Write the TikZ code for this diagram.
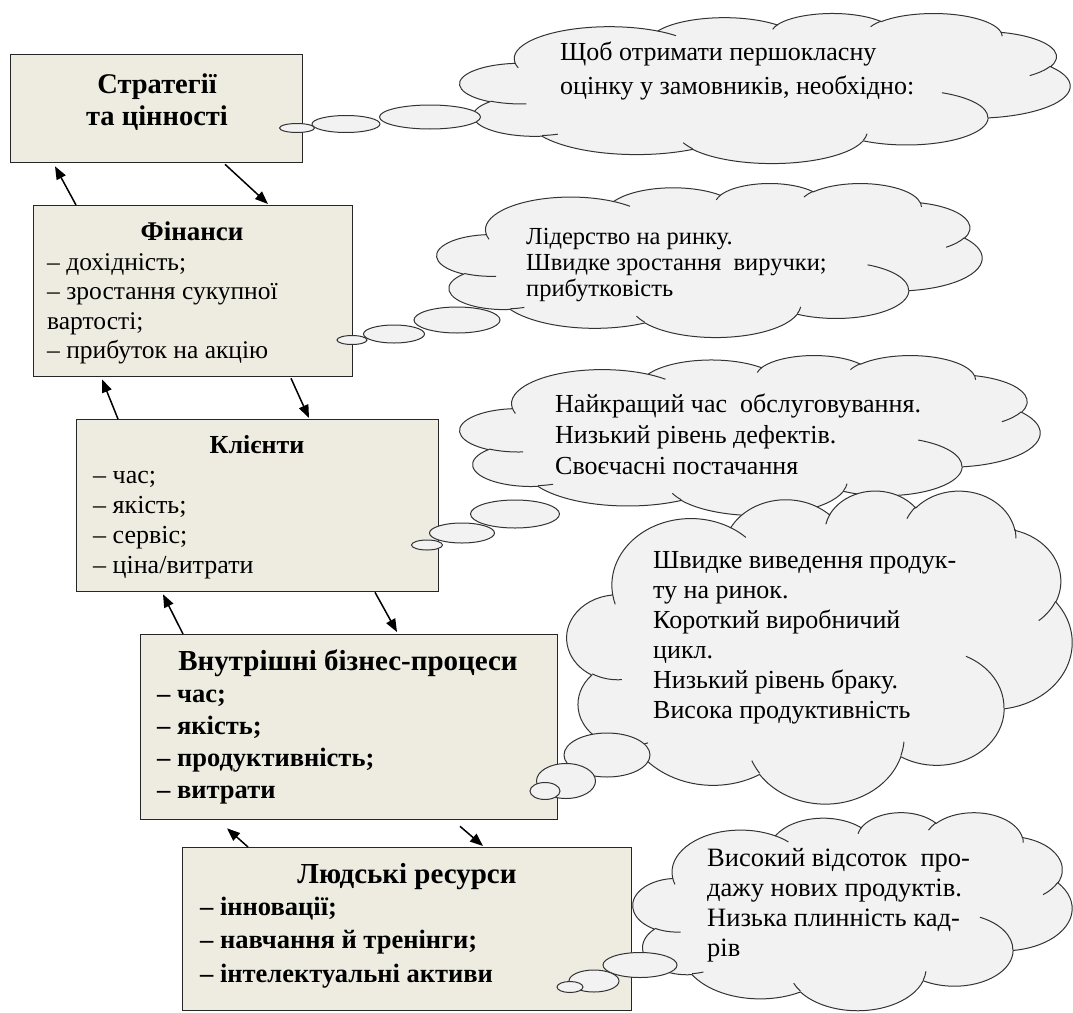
\documentclass[tikz,border=0pt]{standalone}
\usepackage{fontspec}
\setmainfont{Liberation Serif}
\usetikzlibrary{shapes.geometric,arrows.meta}
\definecolor{boxfill}{HTML}{EEECE1}
\definecolor{cloudfill}{HTML}{F2F2F2}
% parametric angles of the arcs of a Word-style cloud (shape space 4320 x 4320)
\newcommand\mkang[6]{%
  \pgfmathsetmacro\tmpAng{atan2((#3)*sin(#5),(#4)*cos(#5))}%
  \pgfmathsetmacro\tmpBng{atan2((#3)*sin((#5)+(#6)),(#4)*cos((#5)+(#6)))}%
  \pgfmathsetmacro\tmpBng{\tmpBng<\tmpAng ? \tmpBng+360 : \tmpBng}%
  \xdef#1{\tmpAng}\xdef#2{\tmpBng}}
\mkang\cldSa\cldEa{675.3}{919.0}{-190.487483}{123.780533}
\mkang\cldSb\cldEb{533.3}{726.7}{-144.102383}{89.945233}
\mkang\cldSc\cldEc{436.5}{594.5}{-145.807917}{99.723017}
\mkang\cldSd\cldEd{485.7}{659.5}{-130.986067}{117.241733}
\mkang\cldSe\cldEe{533.3}{727.3}{-78.708883}{109.026917}
\mkang\cldSf\cldEf{677.5}{922.0}{-46.26725}{130.269}
\mkang\cldSg\cldEg{578.5}{786.7}{0.625017}{114.033333}
\mkang\cldSh\cldEh{675.2}{921.5}{22.4516}{115.17255}
\mkang\cldSi\cldEi{772.0}{1054.3}{66.242633}{75.711017}
\mkang\cldSj\cldEj{436.0}{591.8}{-274.942083}{146.735567}
\mkang\cldSk\cldEk{434.5}{594.5}{-246.8285}{152.51885}
\mkang\cliSa\cliEa{434.5}{594.5}{86.742}{26.4295}
\mkang\cliSb\cliEb{436.0}{591.8}{73.61047}{11.44747}
\mkang\cliSc\cliEc{675.2}{921.5}{137.62415}{14.0811}
\mkang\cliSd\cliEd{675.2}{921.5}{6.45327}{15.99835}
\mkang\cliSe\cliEe{578.5}{786.7}{-70.29235}{70.91737}
\mkang\cliSf\cliEf{533.3}{727.3}{30.31803}{27.7515}
\mkang\cliSg\cliEg{485.7}{659.5}{-13.74433}{14.85242}
\mkang\cliSh\cliEh{485.7}{659.5}{-149.18145}{18.19537}
\mkang\cliSi\cliEi{436.5}{594.5}{-163.49427}{17.6871}
\mkang\cliSj\cliEj{675.3}{919.0}{-66.70695}{12.31935}
\mkang\cliSk\cliEk{675.3}{919.0}{157.65435}{11.85817}
\newcommand\cldout{(390,1437)
  arc[start angle=\cldSa,end angle=\cldEa,x radius=675.3,y radius=919.0]
  arc[start angle=\cldSb,end angle=\cldEb,x radius=533.3,y radius=726.7]
  arc[start angle=\cldSc,end angle=\cldEc,x radius=436.5,y radius=594.5]
  arc[start angle=\cldSd,end angle=\cldEd,x radius=485.7,y radius=659.5]
  arc[start angle=\cldSe,end angle=\cldEe,x radius=533.3,y radius=727.3]
  arc[start angle=\cldSf,end angle=\cldEf,x radius=677.5,y radius=922.0]
  arc[start angle=\cldSg,end angle=\cldEg,x radius=578.5,y radius=786.7]
  arc[start angle=\cldSh,end angle=\cldEh,x radius=675.2,y radius=921.5]
  arc[start angle=\cldSi,end angle=\cldEi,x radius=772.0,y radius=1054.3]
  arc[start angle=\cldSj,end angle=\cldEj,x radius=436.0,y radius=591.8]
  arc[start angle=\cldSk,end angle=\cldEk,x radius=434.5,y radius=594.5] -- cycle}
\newcommand\cldin{(469.3,2617.7) arc[start angle=\cliSa,end angle=\cliEa,x radius=434.5,y radius=594.5]
  (692.8,3489.9) arc[start angle=\cliSb,end angle=\cliEb,x radius=436.0,y radius=591.8]
  (1647.8,3909.0) arc[start angle=\cliSc,end angle=\cliEc,x radius=675.2,y radius=921.5]
  (2882.7,3475.1) arc[start angle=\cliSd,end angle=\cliEd,x radius=675.2,y radius=921.5]
  (3412.9,2295.4) arc[start angle=\cliSe,end angle=\cliEe,x radius=578.5,y radius=786.7]
  (4179.8,1535.4) arc[start angle=\cliSf,end angle=\cliEf,x radius=533.3,y radius=727.3]
  (3832.4,542.6) arc[start angle=\cliSg,end angle=\cliEg,x radius=485.7,y radius=659.5]
  (2907.8,395.2) arc[start angle=\cliSh,end angle=\cliEh,x radius=485.7,y radius=659.5]
  (2214.1,472.0) arc[start angle=\cliSi,end angle=\cliEi,x radius=436.5,y radius=594.5]
  (1400.0,519.2) arc[start angle=\cliSj,end angle=\cliEj,x radius=675.3,y radius=919.0]
  (412.7,1578.9) arc[start angle=\cliSk,end angle=\cliEk,x radius=675.3,y radius=919.0]}
\begin{document}
\begin{tikzpicture}[x=1pt,y=-1pt,
  box/.style={draw=black!85, line width=1.3pt, fill=boxfill, rectangle, anchor=north west, inner sep=0pt},
  arr/.style={line width=1.5pt, -{Triangle[length=13pt,width=10pt]}},
  cldline/.style={draw=black!80, line width=1pt},
  tail/.style={ellipse, draw=black!80, fill=cloudfill, line width=1pt, inner sep=0pt},
  txt/.style={font=\fontsize{26}{30}\selectfont, inner sep=0pt, anchor=base west, align=left},
  ctxt/.style={font=\fontsize{26}{30}\selectfont, inner sep=0pt, anchor=base west, align=left},
  btxt/.style={font=\fontsize{26}{30}\selectfont\bfseries, inner sep=0pt, anchor=base west, align=left},
  ttl/.style={font=\fontsize{27}{30}\selectfont\bfseries, inner sep=0pt, anchor=base, align=center},
]
\useasboundingbox (0,0) rectangle (1073,1012);

% boxes
\node[box, minimum width=292pt, minimum height=108pt] (b1) at (10,54) {};
\node[box, minimum width=319pt, minimum height=171pt] (b2) at (33,205) {};
\node[box, minimum width=362pt, minimum height=172pt] (b3) at (76,419) {};
\node[box, minimum width=417pt, minimum height=185pt] (b4) at (140,634) {};
\node[box, minimum width=449pt, minimum height=163pt] (b5) at (182,847) {};

% box texts (base anchor = baseline of the last line)
\node[ttl, font=\fontsize{28.5}{32}\selectfont\bfseries] (t1) at (157,125) {Стратегії\\та цінності};
\node[ttl] (t2h) at (192,240) {Фінанси};
\node[txt, font=\fontsize{25.5}{29.5}\selectfont] (t2) at (47,358.5) {– дохідність;\\– зростання сукупної\\вартості;\\– прибуток на акцію};
\node[ttl, font=\fontsize{26}{30}\selectfont\bfseries] (t3h) at (257,453) {Клієнти};
\node[txt] (t3) at (93,573) {– час;\\– якість;\\– сервіс;\\– ціна/витрати};
\node[ttl, font=\fontsize{29}{30}\selectfont\bfseries] (t4h) at (348,670) {Внутрішні бізнес-процеси};
\node[btxt, font=\fontsize{26.5}{32}\selectfont\bfseries] (t4) at (157,798) {– час;\\– якість;\\– продуктивність;\\– витрати};
\node[ttl, font=\fontsize{29}{30}\selectfont\bfseries] (t5h) at (407,883) {Людські ресурси};
\node[btxt, font=\fontsize{26.5}{33.5}\selectfont\bfseries] (t5) at (200,982) {– інновації;\\– навчання й тренінги;\\– інтелектуальні активи};

% arrows between boxes
\draw[arr] ([xshift=43pt]b2.north west) -- ([xshift=45pt,yshift=-3pt]b1.south west);
\draw[arr] ([xshift=215pt,yshift=-1pt]b1.south west) -- ([xshift=235pt,yshift=1pt]b2.north west);
\draw[arr] ([xshift=42pt]b3.north west) -- ([xshift=69pt,yshift=-2pt]b2.south west);
\draw[arr] ([xshift=258pt,yshift=-1pt]b2.south west) -- ([xshift=233pt,yshift=1pt]b3.north west);
\draw[arr] ([xshift=43pt]b4.north west) -- ([xshift=87pt,yshift=-2pt]b3.south west);
\draw[arr] ([xshift=299pt]b3.south west) -- ([xshift=257pt,yshift=2pt]b4.north west);
\draw[arr] ([xshift=66pt]b5.north west) -- ([xshift=87pt,yshift=-8pt]b4.south west);
\draw[arr] ([xshift=320pt,yshift=-6pt]b4.south west) -- ([xshift=301pt,yshift=1pt]b5.north west);

% clouds (Word cloud shape, scaled to each cloud's box)
\begin{scope}[shift={(460,13)}, x=0.14120pt, y=-0.034722pt]
  \fill[cloudfill] \cldout; \draw[cldline] \cldout; \draw[cldline] \cldin;
\end{scope}
\begin{scope}[shift={(437,183)}, x=0.12616pt, y=-0.035648pt]
  \fill[cloudfill] \cldout; \draw[cldline] \cldout; \draw[cldline] \cldin;
\end{scope}
\begin{scope}[shift={(460,355)}, x=0.13426pt, y=-0.037037pt]
  \fill[cloudfill] \cldout; \draw[cldline] \cldout; \draw[cldline] \cldin;
\end{scope}
\begin{scope}[shift={(567,490)}, x=0.11690pt, y=-0.072454pt]
  \fill[cloudfill] \cldout; \draw[cldline] \cldout; \draw[cldline] \cldin;
\end{scope}
\begin{scope}[shift={(633,812)}, x=0.10162pt, y=-0.045833pt]
  \fill[cloudfill] \cldout; \draw[cldline] \cldout; \draw[cldline] \cldin;
\end{scope}

% tails of the clouds
\node[tail, minimum width=101pt, minimum height=24pt] (k1c) at (430,117) {};
\node[tail, minimum width=68pt, minimum height=17pt] (k1b) at (346,124) {};
\node[tail, minimum width=35pt, minimum height=9pt] (k1a) at (297,128) {};
\node[tail, minimum width=86pt, minimum height=26pt] (k2c) at (457,320) {};
\node[tail, minimum width=61pt, minimum height=18pt] (k2b) at (394,334) {};
\node[tail, minimum width=30pt, minimum height=9pt] (k2a) at (352,340) {};
\node[tail, minimum width=89pt, minimum height=28pt] (k3c) at (515,514) {};
\node[tail, minimum width=65pt, minimum height=20pt] (k3b) at (462,533) {};
\node[tail, minimum width=31pt, minimum height=10pt] (k3a) at (427,545) {};
\node[tail, minimum width=86pt, minimum height=44pt] (k4c) at (607,755) {};
\node[tail, minimum width=59pt, minimum height=35pt] (k4b) at (566,781) {};
\node[tail, minimum width=30pt, minimum height=17pt] (k4a) at (545,791) {};
\node[tail, minimum width=74pt, minimum height=25pt] (k5c) at (640,965) {};
\node[tail, minimum width=50pt, minimum height=22pt] (k5b) at (594,981) {};
\node[tail, minimum width=26pt, minimum height=11pt] (k5a) at (570,987) {};

% cloud texts
\node[ctxt, font=\fontsize{26}{34}\selectfont] (q1) at (560,94) {Щоб отримати першокласну\\оцінку у замовників, необхідно:};
\node[ctxt, font=\fontsize{24.5}{26}\selectfont] (q2) at (526,296) {Лідерство на ринку.\\Швидке зростання\ \ виручки;\\прибутковість};
\node[ctxt, font=\fontsize{26}{31}\selectfont] (q3) at (555,474) {Найкращий час\ \ обслуговування.\\Низький рівень дефектів.\\Своєчасні постачання};
\node[ctxt] (q4) at (653,718) {Швидке виведення продук-\\ту на ринок.\\Короткий виробничий\\цикл.\\Низький рівень браку.\\Висока продуктивність};
\node[ctxt, font=\fontsize{26.5}{30}\selectfont] (q5) at (707,956) {Високий відсоток\ \ про-\\дажу нових продуктів.\\Низька плинність кад-\\рів};
\end{tikzpicture}
\end{document}
